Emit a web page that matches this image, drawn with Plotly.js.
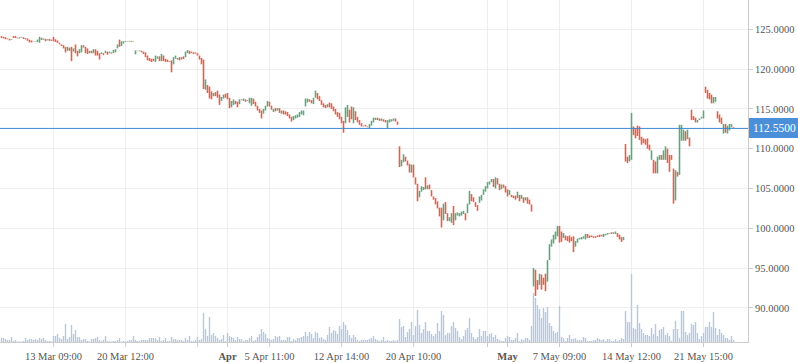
<!DOCTYPE html>
<html>
<head>
<meta charset="utf-8">
<script src="https://cdn.plot.ly/plotly-3.0.1.min.js"></script>
<style>html,body{margin:0;padding:0;background:#fff;}#chart{width:798px;height:363px;}</style>
</head>
<body>
<div id="chart"></div>
<script>
const open = [
124.15,124.05,124.00,123.85,123.80,123.65,124.15,124.15,123.95,123.85,
123.95,124.00,123.90,123.85,123.70,123.60,123.50,123.45,123.40,123.30,
123.65,123.85,123.80,123.60,123.80,123.70,124.05,123.75,123.60,123.30,
123.10,123.00,122.80,122.30,122.70,122.80,122.20,123.10,122.30,122.00,
122.10,123.00,122.80,122.60,122.00,122.30,122.00,122.50,122.30,122.00,
121.90,122.00,122.00,122.20,122.00,122.10,122.00,122.10,122.60,123.70,
122.90,123.20,123.40,123.50,123.45,123.55,123.45,121.85,122.30,122.25,
122.30,122.20,122.10,121.70,121.40,121.30,121.30,120.90,121.30,121.60,
121.00,121.70,121.30,121.20,121.00,121.10,120.60,121.30,121.20,121.50,
121.20,121.60,121.50,122.00,122.30,122.20,122.10,122.10,122.00,121.70,
121.40,121.20,117.40,118.00,117.80,117.20,116.60,117.10,117.30,116.80,
116.00,116.30,116.90,117.00,116.40,115.20,115.50,116.00,115.90,115.60,
116.20,116.00,116.20,116.10,115.70,115.40,116.30,115.90,115.40,115.00,
114.80,114.40,114.80,115.30,115.90,115.40,114.60,115.10,114.80,115.10,
114.40,114.80,114.70,114.60,114.30,114.00,113.60,113.80,113.90,114.00,
114.30,114.20,115.30,115.80,116.20,116.10,115.60,116.40,117.00,116.60,
116.10,115.70,115.50,115.20,115.80,115.70,115.30,115.00,114.60,114.50,
114.00,113.50,113.20,114.00,114.90,115.30,113.20,114.70,114.00,113.60,
113.20,112.90,113.00,112.80,112.60,112.90,113.30,113.60,113.90,113.80,
113.50,113.70,113.60,112.60,113.30,113.40,113.50,113.80,113.40,110.30,
107.80,108.30,109.00,108.50,108.10,107.00,108.00,106.40,105.60,103.90,
104.60,104.80,106.40,104.90,105.50,104.80,104.00,103.80,103.40,102.60,
102.60,101.00,103.30,101.90,100.90,100.70,102.80,101.00,101.60,101.50,
101.60,101.80,101.90,101.90,103.00,104.30,103.90,103.30,102.90,103.20,
103.50,104.20,104.60,105.00,105.50,105.80,106.20,105.00,106.30,105.60,
104.90,105.50,105.30,104.90,104.20,104.20,104.10,104.10,103.80,104.20,
103.70,103.90,103.50,103.90,103.60,103.00,92.70,94.80,93.50,92.90,
94.20,93.80,94.30,93.30,96.00,97.70,98.10,98.60,99.00,100.30,
99.60,98.80,99.10,99.00,99.10,98.90,99.00,97.70,98.20,98.60,
98.60,98.70,98.60,99.30,99.10,99.10,99.00,99.00,99.10,99.20,
99.20,98.90,99.10,99.20,99.30,99.50,99.30,99.30,99.40,99.20,
98.90,98.50,110.60,109.00,108.40,108.60,112.80,112.60,112.90,112.80,
111.50,111.30,111.20,111.30,110.50,108.60,108.60,108.40,106.90,108.60,
109.20,108.60,108.60,110.00,109.20,109.20,107.50,103.50,107.10,106.70,
111.00,111.00,112.20,111.20,111.40,114.90,114.10,113.90,113.30,113.60,
113.80,113.80,117.80,117.40,117.00,116.80,115.70,115.90,114.70,114.30,
113.90,111.90,113.10,111.90,112.30,112.70,112.70];

const high = [
124.15,124.05,124.00,123.85,123.80,123.75,124.15,124.15,123.95,124.00,
124.05,124.00,123.90,123.85,123.70,123.60,123.50,123.50,123.70,124.05,
123.95,123.85,123.80,123.75,123.80,123.70,124.05,123.75,123.60,123.30,
123.10,123.00,122.80,122.80,122.70,122.80,122.60,123.10,122.30,122.50,
123.00,123.00,122.80,122.60,122.30,122.30,122.50,122.50,122.30,122.00,
122.10,122.00,122.30,122.20,122.20,122.10,122.40,122.50,123.10,123.70,
123.50,123.50,123.50,123.50,123.55,123.55,123.50,122.35,122.30,122.35,
122.30,122.20,122.10,121.70,121.40,121.30,121.30,121.70,121.60,121.60,
121.90,121.70,121.30,121.20,121.00,121.10,121.50,121.70,121.40,121.50,
121.50,121.60,122.20,122.40,122.30,122.20,122.10,122.10,122.00,121.70,
121.40,121.20,118.70,118.00,117.80,117.20,117.00,117.10,117.30,116.80,
116.50,116.80,116.90,117.00,116.40,116.00,116.20,116.00,115.90,116.20,
116.20,116.30,116.20,116.10,116.40,116.40,116.30,115.90,115.40,115.00,
114.80,115.00,115.40,116.00,115.90,115.40,115.00,115.10,115.10,115.10,
114.80,114.80,114.70,114.60,114.30,114.00,114.10,114.20,114.30,114.60,
114.80,114.80,116.30,116.30,116.20,116.10,116.40,117.30,117.00,116.60,
116.10,115.70,115.50,115.60,115.80,115.70,115.30,115.00,114.60,114.50,
114.00,113.50,115.20,115.50,114.90,115.30,115.20,114.70,114.00,113.60,
113.20,112.90,113.00,112.80,113.10,113.50,113.90,113.90,113.90,113.80,
113.80,113.70,113.60,113.60,113.70,113.70,113.80,113.80,113.40,110.30,
108.60,109.30,109.00,108.50,108.10,108.00,108.00,106.40,105.60,104.70,
105.30,105.20,106.40,105.40,105.50,104.80,104.00,103.80,103.40,102.60,
102.60,103.10,103.30,101.90,101.40,101.90,102.80,101.90,102.00,101.90,
102.10,102.20,101.90,103.10,104.70,104.30,103.90,103.30,102.90,104.00,
104.20,104.90,105.30,105.80,105.90,106.20,106.20,106.40,106.30,105.60,
105.50,105.50,105.30,104.90,104.80,104.20,104.10,104.10,104.60,104.20,
104.20,103.90,103.90,103.90,103.60,103.00,95.00,94.80,93.50,94.30,
94.20,93.80,94.30,96.00,98.00,98.60,99.20,99.60,100.30,100.30,
99.60,99.40,99.10,99.00,99.10,98.90,99.00,98.40,98.70,98.80,
98.90,99.00,99.30,99.30,99.10,99.10,99.00,99.00,99.10,99.20,
99.20,99.30,99.30,99.40,99.40,99.50,99.50,99.60,99.40,99.20,
98.90,98.90,110.60,109.00,109.20,114.50,112.80,112.60,112.90,112.80,
111.50,111.30,111.20,111.30,110.50,109.80,108.60,108.40,109.00,109.20,
109.20,109.80,110.30,110.00,109.20,109.20,107.50,107.30,107.10,113.00,
113.00,112.40,112.20,112.40,111.40,114.90,114.10,113.90,113.60,113.80,
114.00,114.80,117.80,117.40,117.00,116.80,116.50,116.50,114.70,114.30,
113.90,113.10,113.10,112.90,113.10,113.10,112.70];

const low = [
123.90,123.85,123.75,123.75,123.60,123.65,123.90,123.90,123.85,123.85,
123.95,123.80,123.75,123.55,123.35,123.35,123.45,123.45,123.40,123.30,
123.65,123.70,123.50,123.60,123.55,123.55,123.50,123.40,123.30,123.10,
122.90,122.60,122.10,122.30,122.30,121.00,122.20,122.00,121.60,122.00,
122.10,122.70,122.00,121.90,122.00,122.00,122.00,121.70,121.70,121.20,
121.90,121.75,122.00,121.80,122.00,121.95,122.00,122.10,122.60,122.80,
122.90,123.20,123.40,123.45,123.45,123.45,123.45,121.85,122.25,122.25,
122.10,121.90,121.50,121.10,121.00,120.90,121.00,120.90,121.30,121.00,
121.00,121.00,120.90,120.90,120.90,119.60,120.60,121.30,121.20,121.10,
121.20,121.25,121.50,122.00,121.90,122.00,121.90,121.95,121.70,121.20,
120.60,117.50,117.40,117.00,116.30,116.20,116.60,116.60,116.40,115.50,
116.00,116.30,116.40,116.20,115.10,115.20,115.50,115.60,115.20,115.60,
116.10,116.00,115.90,116.00,115.70,115.40,115.60,115.30,114.80,114.50,
113.80,114.40,114.80,115.30,115.30,114.90,114.60,114.70,114.80,114.50,
114.40,114.30,114.30,114.10,113.80,113.40,113.60,113.80,113.90,114.00,
114.30,114.20,115.30,115.80,115.90,115.70,115.60,116.40,116.20,116.00,
115.50,115.20,115.10,115.20,115.20,115.00,114.70,114.30,114.00,113.70,
113.20,112.00,113.20,114.00,113.30,113.70,113.20,113.60,113.30,113.00,
112.80,112.80,112.80,112.70,112.60,112.90,113.30,113.60,113.60,113.50,
113.50,113.40,113.30,112.60,113.30,113.40,113.50,113.40,113.00,107.70,
107.80,108.30,108.40,107.90,107.00,107.00,106.40,105.50,103.40,103.90,
104.60,104.80,104.90,104.90,104.90,104.00,103.60,103.00,102.50,101.50,
100.10,101.00,101.80,100.90,100.90,100.70,100.40,101.00,101.60,101.50,
101.60,101.80,101.00,101.90,103.00,103.40,103.30,102.70,102.20,103.20,
103.50,104.20,104.60,105.00,105.50,105.80,105.20,105.00,105.50,104.80,
104.90,105.10,104.50,104.00,104.20,103.90,103.80,103.60,103.80,103.40,
103.70,103.20,103.50,103.10,103.00,102.10,92.70,91.50,92.30,92.90,
92.30,92.90,92.10,93.30,96.00,97.70,98.10,98.60,99.00,98.20,
98.30,98.80,98.50,98.40,98.20,98.40,97.00,97.70,98.20,98.60,
98.60,98.70,98.60,98.80,98.80,98.90,98.80,98.80,98.90,98.90,
99.00,98.90,99.10,99.20,99.30,99.30,99.30,99.30,98.90,98.60,
98.30,98.50,108.40,108.20,108.40,108.60,111.70,111.30,111.60,111.10,
110.50,110.70,110.50,110.00,109.80,108.60,106.90,106.90,106.90,108.60,
108.60,108.60,108.60,108.20,107.10,108.60,103.10,103.50,106.50,106.70,
111.00,111.00,111.00,111.20,110.30,113.60,113.60,113.30,113.30,113.60,
113.80,113.80,117.00,116.30,116.20,115.70,115.70,115.90,113.80,113.30,
113.10,111.90,112.00,111.90,112.30,112.70,112.55];

const close = [
123.90,123.85,123.75,123.75,123.60,123.75,123.90,123.90,123.85,124.00,
124.05,123.80,123.75,123.55,123.35,123.35,123.45,123.50,123.70,124.05,
123.95,123.70,123.50,123.75,123.55,123.55,123.50,123.40,123.30,123.10,
122.90,122.60,122.10,122.80,122.30,121.00,122.60,122.00,121.60,122.50,
123.00,122.70,122.00,121.90,122.30,122.00,122.50,121.70,121.70,121.20,
122.10,121.75,122.30,121.80,122.20,121.95,122.40,122.50,123.10,122.80,
123.50,123.50,123.50,123.45,123.55,123.45,123.50,122.35,122.25,122.35,
122.10,121.90,121.50,121.10,121.00,120.90,121.00,121.70,121.60,121.00,
121.90,121.00,120.90,120.90,120.90,119.60,121.50,121.70,121.40,121.10,
121.50,121.25,122.20,122.40,121.90,122.00,121.90,121.95,121.70,121.20,
120.60,117.50,118.70,117.00,116.30,116.20,117.00,116.60,116.40,115.50,
116.50,116.80,116.40,116.20,115.10,116.00,116.20,115.60,115.20,116.20,
116.10,116.30,115.90,116.00,116.40,116.40,115.60,115.30,114.80,114.50,
113.80,115.00,115.40,116.00,115.30,114.90,115.00,114.70,115.10,114.50,
114.80,114.30,114.30,114.10,113.80,113.40,114.10,114.20,114.30,114.60,
114.80,114.80,116.30,116.30,115.90,115.70,116.40,117.30,116.20,116.00,
115.50,115.20,115.10,115.60,115.20,115.00,114.70,114.30,114.00,113.70,
113.20,112.00,115.20,115.50,113.30,113.70,115.20,113.60,113.30,113.00,
112.80,112.80,112.80,112.70,113.10,113.50,113.90,113.90,113.60,113.50,
113.80,113.40,113.30,113.60,113.70,113.70,113.80,113.40,113.00,107.70,
108.60,109.30,108.40,107.90,107.00,108.00,106.40,105.50,103.40,104.70,
105.30,105.20,104.90,105.40,104.90,104.00,103.60,103.00,102.50,101.50,
100.10,103.10,101.80,100.90,101.40,101.90,100.40,101.90,102.00,101.90,
102.10,102.20,101.00,103.10,104.70,103.40,103.30,102.70,102.20,104.00,
104.20,104.90,105.30,105.80,105.90,106.20,105.20,106.40,105.50,104.80,
105.50,105.10,104.50,104.00,104.80,103.90,103.80,103.60,104.60,103.40,
104.20,103.20,103.90,103.10,103.00,102.10,95.00,91.50,92.30,94.30,
92.30,92.90,92.10,96.00,98.00,98.60,99.20,99.60,100.30,98.20,
98.30,99.40,98.50,98.40,98.20,98.40,97.00,98.40,98.70,98.80,
98.90,99.00,99.30,98.80,98.80,98.90,98.80,98.80,98.90,98.90,
99.00,99.30,99.30,99.40,99.40,99.30,99.50,99.60,98.90,98.60,
98.30,98.90,108.40,108.20,109.20,114.50,111.70,111.30,111.60,111.10,
110.50,110.70,110.50,110.00,109.80,109.80,106.90,106.90,109.00,109.20,
108.60,109.80,110.30,108.20,107.10,108.60,103.10,107.30,106.50,113.00,
113.00,112.40,111.00,112.40,110.30,113.60,113.60,113.30,113.60,113.80,
114.00,114.80,117.00,116.30,116.20,115.70,116.50,116.50,113.80,113.30,
113.10,113.10,112.00,112.90,113.10,113.10,112.55];

const volume = [
4,4,3,2,2,5,1,2,0.5,0.5, 0.5,1,4,2,3,3,2,3,2,4, 3,4,2,1,1,0.5,6,6,8,4,
3,6,18,3,5,17,8,12,5,5, 2,3,3,1,0.5,3,3,4,5,2, 1,2,6,1,0.5,0.5,1,1,2,4,
0.5,1,0.5,1,2,2,6,2,1,1, 2,2,2,2,4,4,4,4,2,5, 1,2,4,1,1,5,3,3,2,2,
2,1,4,2,6,1,1,
2,5,2,3,29,13,6,25,7,9, 6,4,2,3,7,1,9,6,5,4, 2,5,3,3,1,2,2,4,6,1,
2,5,8,13,10,8,4,3,2,3, 6,5,6,2,2,2,5,5,1,3, 2,4,4,5,6,10,6,10,8,4,
10,9,4,5,3,2,7,15,9,12, 11,8,16,13,20,17,12,7,4,7, 5,2,1,2,2,2,2,3,4,6,
3,2,1,2,5,1,2,1,1,2, 1,2,
23,15,16,5,10,13,20,7,16,32, 17,9,13,20,11,11,8,6,8,19, 11,31,27,7,9,9,16,20,14,11,
5,3,6,12,14,24,9,5,3,5, 13,6,11,11,6,8,9,5,7,3, 2,1,1,4,6,5,2,2,4,9,
1,3,2,4,4,2,16,
49,44,37,33,24,34,30,35,19,16,11,9,10,36,5,4,
1,4,7,3,3,4,2,2,2,5, 4,1,1,1,2,2,4,3,2,3, 1,3,3,1,1,3,1,2,4,3,
31,20,20,68,14,13,37,19,13,9, 7,7,6,14,8,18,6,12,13,15, 7,9,6,1,13,21,13,4,31,31,
10,7,9,18,17,20,9,3,6,9, 15,15,20,15,30,14,7,13,9,7, 4,4,2,6,2];

const tickIdx  = [26, 62, 98, 113, 134, 170, 206, 243, 253, 279, 315, 351];
const tickText = ["13 Mar 09:00", "20 Mar 12:00", "", "<b>Apr</b>", "5 Apr 11:00", "12 Apr 14:00",
                  "20 Apr 10:00", "", "<b>May</b>", "7 May 09:00", "14 May 12:00", "21 May 15:00"];
const monthIdx = [113, 253];

const idx = close.map((_, i) => i);
const lastClose = close[close.length - 1];
const serif = "Liberation Serif";

const traces = [
  {
    type: 'bar', x: idx, y: volume, yaxis: 'y2', width: 0.7,
    marker: {color: '#b1c9e3', line: {width: 0}}, hoverinfo: 'skip', showlegend: false
  },
  {
    type: 'ohlc', x: idx, open: open, high: high, low: low, close: close,
    tickwidth: 0,
    increasing: {line: {color: '#5aa97b', width: 1.6}},
    decreasing: {line: {color: '#ef5a43', width: 1.6}},
    hoverinfo: 'skip', showlegend: false
  }
];

const shapes = monthIdx.map(m => ({
  type: 'line', xref: 'x', yref: 'paper', x0: m, x1: m, y0: 0, y1: 1,
  line: {color: '#c4c4c4', width: 1}, layer: 'below'
}));
shapes.push({
  type: 'line', xref: 'paper', yref: 'y', x0: 0, x1: 1, y0: lastClose, y1: lastClose,
  line: {color: '#3f87d2', width: 1}, layer: 'above'
});

const layout = {
  width: 798, height: 363,
  margin: {l: 0, r: 50, t: 0, b: 21, pad: 0},
  paper_bgcolor: '#ffffff', plot_bgcolor: '#ffffff',
  showlegend: false,
  xaxis: {
    range: [-0.75, 373.25], tickmode: 'array', tickvals: tickIdx, ticktext: tickText,
    showgrid: true, gridcolor: '#eeeeee', gridwidth: 1, zeroline: false,
    showline: true, linecolor: '#cccccc', linewidth: 1,
    ticks: 'outside', ticklen: 4, tickcolor: '#cccccc',
    tickfont: {family: serif, size: 10.5, color: '#555555'},
    rangeslider: {visible: false}, fixedrange: true
  },
  yaxis: {
    side: 'right', range: [85.72, 128.68], tick0: 0, dtick: 5, tickformat: '.4f',
    showgrid: true, gridcolor: '#eeeeee', gridwidth: 1, zeroline: false,
    showline: true, linecolor: '#cccccc', linewidth: 1,
    ticks: 'outside', ticklen: 4, tickcolor: '#cccccc',
    tickfont: {family: serif, size: 10.5, color: '#555555'}, fixedrange: true
  },
  yaxis2: {overlaying: 'y', range: [0, 342], visible: false, fixedrange: true},
  shapes: shapes,
  annotations: [{
    xref: 'paper', yref: 'y', x: 1, y: lastClose, xanchor: 'left', yanchor: 'middle',
    text: lastClose.toFixed(4), showarrow: false,
    font: {family: serif, size: 11.5, color: '#ffffff'},
    bgcolor: '#4a8fd8', bordercolor: '#4a8fd8', borderpad: 3, xshift: 1
  }]
};

Plotly.newPlot('chart', traces, layout, {displayModeBar: false, staticPlot: true});
</script>
</body>
</html>
